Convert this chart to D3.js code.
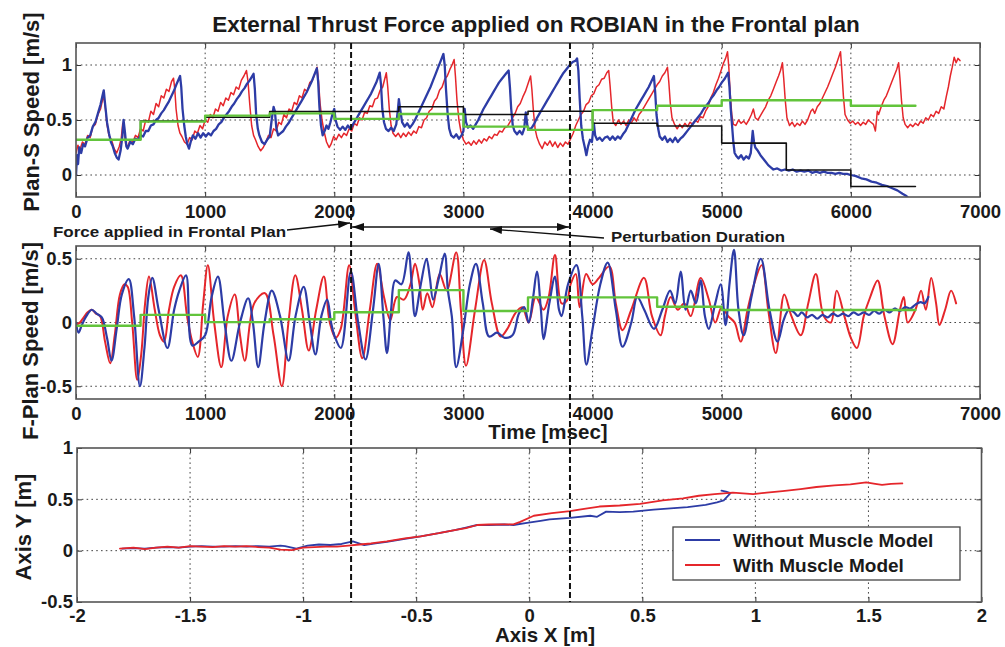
<!DOCTYPE html>
<html><head><meta charset="utf-8">
<script src="https://cdn.jsdelivr.net/npm/d3@7"></script>
<style>
body{margin:0;background:#fff}
svg{display:block}
text{font-family:"Liberation Sans",Arial,Helvetica,sans-serif;font-weight:bold;fill:#1a1a1a}
</style>
</head><body>
<svg id="chart" width="1005" height="647"></svg>
<script>
// ---------- DATA ----------
const titleText = "External Thrust Force applied on ROBIAN in the Frontal plan";
const timeTicks = [0,1000,2000,3000,4000,5000,6000,7000];
const topYTicks = [0,0.5,1];
const midYTicks = [-0.5,0,0.5];
const trajXTicks = [-2,-1.5,-1,-0.5,0,0.5,1,1.5,2];
const trajYTicks = [-0.5,0,0.5,1];
const seriesNames = ["Without Muscle Model","With Muscle Model"];
const perturbTimes = [2130,3825];

const stepStarts = [0,500,1000,1500,2000,2500,3000,3500,4000,4500,5000,5500,6000];
const stepEnd = 6500;
const topGreenSteps = [0.32,0.485,0.54,0.56,0.51,0.555,0.44,0.41,0.59,0.63,0.68,0.68,0.63];
const topBlackSteps = [0.32,0.49,0.525,0.577,0.577,0.62,0.55,0.58,0.47,0.445,0.29,0.045,-0.105];
const midGreenSteps = [-0.026,0.06,0.003,0.026,0.08,0.254,0.09,0.197,0.197,0.124,0.098,0.098,0.098];

// Plan-S speed, with muscle model (red)
const topRed = [[0,0.20],[15,0.27],[30,0.23],[50,0.30],[70,0.28],[90,0.36],[110,0.34],[130,0.44],[150,0.46],[170,0.55],[190,0.60],[205,0.68],[215,0.72],[228,0.60],[240,0.46],[255,0.36],[275,0.32],[295,0.24],[315,0.20],[335,0.26],[350,0.33],[362,0.47],[372,0.42],[385,0.28],[400,0.26],
[420,0.32],[440,0.30],[460,0.36],[480,0.34],[500,0.42],[520,0.40],[540,0.50],[560,0.48],[580,0.58],[600,0.55],[620,0.65],[640,0.62],[660,0.72],[680,0.70],[700,0.78],[720,0.76],[740,0.85],[755,0.88],[765,0.78],[775,0.60],[790,0.45],[805,0.38],[820,0.35],[840,0.30],[860,0.28],
[880,0.34],[900,0.32],[920,0.40],[940,0.38],[960,0.45],[980,0.42],[1000,0.50],[1020,0.48],[1040,0.55],[1060,0.52],[1080,0.60],[1100,0.58],[1120,0.66],[1140,0.63],[1160,0.70],[1180,0.68],[1200,0.75],[1220,0.73],[1240,0.80],[1260,0.78],[1280,0.86],[1300,0.90],[1320,0.95],[1332,0.85],[1345,0.65],[1360,0.45],[1375,0.36],[1390,0.32],[1410,0.26],[1430,0.22],[1450,0.25],
[1470,0.30],[1490,0.36],[1510,0.34],[1530,0.42],[1550,0.40],[1570,0.48],[1590,0.46],[1610,0.55],[1630,0.52],[1650,0.60],[1670,0.58],[1690,0.66],[1710,0.64],[1730,0.72],[1750,0.70],[1770,0.78],[1790,0.76],[1810,0.84],[1830,0.86],[1850,0.92],[1867,0.98],[1878,0.85],[1890,0.65],[1905,0.50],[1920,0.40],[1940,0.30],[1960,0.25],[1975,0.28],
[1995,0.35],[2015,0.32],[2035,0.37],[2055,0.34],[2075,0.38],[2095,0.36],[2115,0.42],[2135,0.40],[2155,0.47],[2175,0.45],[2195,0.52],[2215,0.50],[2235,0.57],[2255,0.56],[2275,0.63],[2295,0.62],[2315,0.69],[2335,0.70],[2355,0.77],[2375,0.80],[2390,0.87],[2403,0.93],[2414,0.80],[2426,0.60],[2440,0.45],[2455,0.38],[2475,0.35],
[2495,0.38],[2515,0.34],[2535,0.38],[2555,0.35],[2575,0.39],[2595,0.36],[2615,0.40],[2635,0.38],[2655,0.44],[2675,0.43],[2695,0.50],[2715,0.52],[2735,0.58],[2755,0.60],[2775,0.67],[2795,0.70],[2815,0.77],[2835,0.80],[2855,0.87],[2875,0.90],[2895,0.96],[2912,1.00],[2928,1.05],[2938,0.90],[2950,0.68],[2965,0.50],[2980,0.40],[3000,0.32],[3020,0.28],[3040,0.30],[3060,0.27],
[3080,0.31],[3100,0.28],[3120,0.32],[3140,0.29],[3160,0.33],[3180,0.31],[3200,0.35],[3220,0.33],[3240,0.37],[3260,0.36],[3280,0.40],[3300,0.39],[3320,0.43],[3340,0.44],[3360,0.48],[3380,0.52],[3400,0.56],[3420,0.62],[3440,0.65],[3460,0.71],[3480,0.76],[3500,0.83],[3520,0.90],[3530,0.78],[3542,0.58],[3555,0.42],[3570,0.34],
[3590,0.28],[3610,0.24],[3630,0.30],[3650,0.27],[3670,0.31],[3690,0.26],[3710,0.30],[3730,0.25],[3750,0.29],[3770,0.26],[3790,0.30],[3810,0.28],[3830,0.33],[3850,0.38],[3870,0.45],[3890,0.50],[3910,0.55],[3930,0.58],[3950,0.64],[3970,0.66],[3990,0.72],[4010,0.74],[4030,0.80],[4050,0.82],[4070,0.87],[4090,0.88],[4110,0.93],[4125,0.95],[4135,0.82],[4148,0.62],[4160,0.48],
[4180,0.45],[4200,0.50],[4220,0.46],[4240,0.49],[4260,0.45],[4280,0.50],[4300,0.47],[4320,0.52],[4340,0.49],[4360,0.55],[4380,0.58],[4400,0.62],[4420,0.66],[4440,0.70],[4460,0.74],[4480,0.78],[4500,0.82],[4520,0.85],[4540,0.90],[4560,0.93],[4580,0.98],[4590,0.85],[4602,0.65],[4615,0.52],
[4635,0.46],[4655,0.42],[4675,0.46],[4695,0.43],[4715,0.47],[4735,0.44],[4755,0.48],[4775,0.46],[4795,0.50],[4815,0.48],[4835,0.53],[4855,0.52],[4875,0.58],[4895,0.62],[4915,0.70],[4935,0.75],[4955,0.82],[4975,0.88],[4995,0.95],[5015,1.02],[5030,1.06],[5045,1.12],[5055,0.98],[5065,0.75],[5078,0.55],[5090,0.46],
[5110,0.45],[5130,0.50],[5150,0.47],[5170,0.49],[5190,0.46],[5210,0.50],[5230,0.55],[5245,0.60],[5260,0.52],[5280,0.50],[5300,0.54],[5320,0.58],[5340,0.62],[5360,0.68],[5380,0.72],[5400,0.78],[5420,0.84],[5440,0.90],[5455,0.95],[5470,1.02],[5480,0.88],[5492,0.68],[5505,0.52],
[5525,0.45],[5545,0.48],[5565,0.44],[5585,0.47],[5605,0.45],[5625,0.49],[5645,0.46],[5665,0.50],[5690,0.58],[5705,0.60],[5720,0.56],[5740,0.62],[5760,0.65],[5780,0.70],[5800,0.75],[5820,0.80],[5840,0.86],[5860,0.92],[5880,0.98],[5900,1.05],[5920,1.12],[5930,0.95],[5942,0.72],[5955,0.55],
[5975,0.50],[5995,0.47],[6015,0.49],[6035,0.46],[6055,0.48],[6075,0.45],[6095,0.48],[6115,0.46],[6135,0.50],[6155,0.48],[6175,0.46],[6190,0.40],[6205,0.58],[6215,0.55],[6235,0.62],[6255,0.68],[6275,0.72],[6295,0.78],[6315,0.84],[6335,0.90],[6355,0.96],[6370,1.02],[6380,0.88],[6392,0.68],[6405,0.52],
[6420,0.46],[6440,0.43],[6460,0.46],[6480,0.44],[6500,0.47],[6520,0.45],[6540,0.49],[6560,0.47],[6580,0.52],[6600,0.50],[6620,0.55],[6640,0.53],[6660,0.58],[6680,0.56],[6700,0.62],[6720,0.60],[6740,0.72],[6755,0.80],[6770,0.90],[6785,0.98],[6800,1.07],[6815,1.02],[6830,1.06],[6845,1.04]];

// Plan-S speed, without muscle model (blue)
const topBlue = [[0,0.0],[8,0.18],[16,0.10],[25,0.25],[40,0.20],[55,0.28],[70,0.26],[90,0.34],[110,0.36],[130,0.44],[150,0.48],[170,0.56],[190,0.64],[205,0.72],[215,0.77],[225,0.65],[240,0.48],[255,0.38],[270,0.30],[285,0.26],[300,0.20],[315,0.16],[330,0.14],[345,0.22],[360,0.36],[368,0.50],[378,0.40],[390,0.26],[400,0.24],
[420,0.30],[440,0.28],[460,0.33],[480,0.32],[500,0.36],[520,0.35],[540,0.40],[560,0.40],[580,0.45],[600,0.46],[620,0.50],[640,0.52],[660,0.56],[680,0.59],[700,0.63],[720,0.67],[740,0.72],[760,0.77],[780,0.83],[795,0.87],[806,0.90],[815,0.80],[825,0.60],[838,0.45],[850,0.35],[862,0.28],[875,0.24],[888,0.30],
[905,0.36],[925,0.33],[945,0.38],[965,0.34],[985,0.38],[1005,0.35],[1025,0.38],[1045,0.36],[1065,0.40],[1085,0.42],[1105,0.46],[1125,0.48],[1145,0.52],[1165,0.55],[1185,0.58],[1205,0.62],[1225,0.65],[1245,0.69],[1265,0.72],[1285,0.76],[1305,0.79],[1325,0.83],[1345,0.86],[1360,0.89],[1375,0.92],[1385,0.78],[1395,0.55],[1408,0.42],[1420,0.36],[1440,0.30],[1460,0.28],[1480,0.32],[1500,0.35],[1515,0.50],[1530,0.62],[1540,0.58],[1552,0.42],[1565,0.36],
[1585,0.38],[1605,0.40],[1625,0.44],[1645,0.47],[1665,0.51],[1685,0.55],[1705,0.59],[1725,0.63],[1745,0.67],[1765,0.71],[1785,0.75],[1805,0.80],[1825,0.85],[1845,0.91],[1865,0.97],[1875,0.85],[1885,0.62],[1897,0.45],[1910,0.36],[1925,0.40],[1940,0.45],[1955,0.42],[1970,0.48],[1985,0.55],[2000,0.60],[2010,0.50],[2025,0.44],[2045,0.41],[2065,0.44],[2085,0.41],[2105,0.45],[2125,0.42],
[2145,0.46],[2165,0.50],[2185,0.54],[2205,0.58],[2225,0.62],[2245,0.66],[2265,0.70],[2285,0.74],[2305,0.79],[2325,0.84],[2340,0.89],[2352,0.93],[2362,0.82],[2372,0.60],[2385,0.48],[2400,0.42],[2420,0.40],[2440,0.43],[2460,0.40],[2480,0.46],[2493,0.60],[2500,0.69],[2510,0.60],[2525,0.48],[2545,0.44],[2565,0.47],[2585,0.43],[2605,0.46],
[2625,0.50],[2645,0.55],[2665,0.60],[2685,0.65],[2705,0.70],[2725,0.75],[2745,0.80],[2765,0.86],[2785,0.92],[2805,0.98],[2825,1.04],[2845,1.10],[2855,1.00],[2865,0.78],[2878,0.55],[2890,0.42],[2905,0.36],[2925,0.34],[2945,0.37],[2965,0.33],[2985,0.36],[3000,0.40],[3010,0.60],[3020,0.48],[3035,0.43],[3055,0.45],[3075,0.42],[3095,0.46],
[3115,0.50],[3135,0.55],[3155,0.60],[3175,0.64],[3195,0.68],[3215,0.72],[3235,0.76],[3255,0.80],[3275,0.84],[3295,0.87],[3315,0.90],[3335,0.93],[3350,0.95],[3360,0.80],[3370,0.60],[3382,0.45],[3395,0.40],[3415,0.37],[3435,0.40],[3455,0.37],[3470,0.42],[3483,0.57],[3495,0.45],[3510,0.41],
[3530,0.43],[3550,0.47],[3570,0.52],[3590,0.56],[3610,0.60],[3630,0.64],[3650,0.68],[3670,0.72],[3690,0.76],[3710,0.80],[3730,0.84],[3750,0.88],[3770,0.92],[3790,0.95],[3810,0.98],[3830,1.01],[3850,1.03],[3870,1.04],[3880,1.06],[3890,0.95],[3900,0.70],[3912,0.45],[3925,0.33],[3940,0.25],[3952,0.18],[3965,0.26],[3980,0.32],[3995,0.30],[4010,0.47],[4020,0.36],[4035,0.32],[4055,0.34],[4075,0.31],[4095,0.34],
[4115,0.35],[4135,0.32],[4155,0.35],[4175,0.32],[4195,0.35],[4215,0.33],[4235,0.37],[4255,0.40],[4275,0.45],[4295,0.50],[4315,0.55],[4335,0.60],[4355,0.64],[4375,0.68],[4395,0.72],[4415,0.76],[4435,0.80],[4455,0.85],[4475,0.90],[4485,0.75],[4495,0.55],[4508,0.42],[4520,0.35],[4540,0.32],[4560,0.35],[4580,0.30],[4600,0.33],[4620,0.30],[4640,0.34],[4660,0.30],[4680,0.33],
[4700,0.35],[4720,0.38],[4740,0.41],[4760,0.44],[4780,0.47],[4800,0.50],[4820,0.53],[4840,0.56],[4860,0.60],[4880,0.63],[4900,0.66],[4920,0.70],[4940,0.73],[4960,0.77],[4980,0.80],[5000,0.84],[5020,0.87],[5035,0.90],[5050,0.93],[5060,0.80],[5070,0.60],[5080,0.45],[5090,0.30],[5100,0.20],[5115,0.17],[5130,0.15],[5150,0.18],[5170,0.14],[5190,0.17],[5210,0.15],[5225,0.20],[5240,0.40],[5250,0.30],[5260,0.25],
[5280,0.22],[5300,0.18],[5320,0.15],[5340,0.12],[5360,0.09],[5380,0.07],[5400,0.05],[5430,0.06],[5460,0.04],[5490,0.05],[5520,0.04],[5550,0.05],[5580,0.03],[5610,0.04],[5640,0.03],[5670,0.04],[5700,0.02],[5730,0.03],[5760,0.02],[5790,0.03],[5820,0.02],[5850,0.02],[5880,0.01],[5910,0.02],[5940,0.01],[5970,0.01],[6000,0.00],[6040,-0.01],[6080,-0.03],[6120,-0.04],[6160,-0.06],[6200,-0.07],[6240,-0.09],[6280,-0.10],[6320,-0.12],[6360,-0.14],[6400,-0.17],[6430,-0.19],[6445,-0.21]];

// F-Plan speed, with muscle model (red)
const midRed = [[0,-0.02],[30,0.00],[60,0.04],[90,0.08],[122,0.10],[155,0.07],[187,0.05],[225,-0.15],[265,-0.32],[300,-0.10],[340,0.22],[375,0.30],[400,0.28],[435,0.00],[474,-0.45],[505,-0.25],[535,0.15],[565,0.36],[610,0.10],[650,-0.10],[682,-0.15],[720,0.10],[760,0.28],[812,0.37],[860,0.05],[900,-0.15],[943,-0.27],[985,0.15],[1021,0.45],[1070,0.00],[1125,-0.35],[1175,0.05],[1229,0.22],[1270,-0.10],[1307,-0.30],[1380,0.15],[1463,0.23],[1530,-0.10],[1594,-0.50],[1645,0.00],[1698,0.37],[1750,0.10],[1802,-0.22],[1860,0.10],[1919,0.36],[1965,0.00],
[2010,-0.12],[2050,-0.05],[2115,0.45],[2160,0.10],[2217,-0.28],[2275,0.10],[2332,0.46],[2385,0.20],[2434,0.02],[2485,0.20],[2540,0.18],[2590,0.30],[2625,0.46],[2660,0.30],[2685,0.10],[2720,0.23],[2760,0.12],[2816,0.38],[2870,0.25],[2944,0.55],[2980,0.10],[3020,-0.34],[3090,0.10],[3160,0.49],[3220,0.15],[3288,-0.11],[3340,-0.05],[3400,0.07],[3455,0.12],[3505,0.00],[3560,0.20],[3620,0.10],[3660,0.20],[3709,0.53],[3760,0.15],[3800,0.17],[3830,0.30],[3870,0.38],[3900,0.12],[3950,0.38],[4000,0.30],[4050,0.35],[4130,0.44],[4180,0.15],[4232,-0.06],
[4300,0.10],[4398,0.35],[4460,0.05],[4527,-0.10],[4560,0.05],[4605,0.20],[4660,0.10],[4710,0.15],[4760,0.05],[4837,0.35],[4900,0.18],[4950,0.00],[5000,0.12],[5050,0.05],[5100,0.00],[5147,-0.15],[5200,0.10],[5250,0.30],[5310,0.45],[5360,0.10],[5419,-0.24],[5484,0.22],[5540,0.05],[5612,-0.10],[5670,0.15],[5729,0.38],[5790,0.05],[5845,0.00],[5890,0.25],[5950,0.05],[6000,-0.12],[6047,-0.20],[6100,0.05],[6150,0.20],[6207,0.33],[6260,0.05],[6323,-0.17],[6380,0.10],[6410,0.20],[6440,0.00],[6500,0.10],[6544,0.25],[6580,0.10],[6622,0.35],[6660,0.15],[6686,-0.02],[6730,0.10],[6776,0.25],[6815,0.15]];

// F-Plan speed, without muscle model (blue)
const midBlue = [[0,0.00],[20,-0.08],[45,-0.02],[80,0.05],[122,0.10],[160,0.07],[200,0.04],[240,-0.12],[275,-0.30],[315,-0.05],[355,0.22],[409,0.34],[450,0.05],[495,-0.50],[530,-0.20],[560,0.20],[591,0.35],[640,0.10],[708,-0.20],[760,0.10],[800,0.25],[852,0.37],[900,-0.18],[950,-0.15],[1000,-0.10],[1050,0.20],[1099,0.36],[1150,0.00],[1203,-0.30],[1270,0.00],[1333,0.19],[1370,0.00],[1411,-0.35],[1460,0.00],[1516,0.25],[1580,0.05],[1646,-0.30],[1700,0.05],[1763,0.28],[1810,0.00],[1854,-0.25],[1900,0.05],[1945,0.18],[1975,0.00],
[2000,-0.10],[2051,-0.20],[2128,0.40],[2185,0.00],[2242,-0.29],[2300,0.10],[2344,0.46],[2380,0.05],[2408,-0.24],[2440,0.10],[2472,0.33],[2520,0.30],[2574,0.55],[2600,0.30],[2625,0.05],[2670,0.30],[2714,0.50],[2740,0.35],[2765,0.18],[2810,0.35],[2855,0.54],[2880,0.25],[2910,0.05],[2944,-0.35],[3000,-0.05],[3050,0.30],[3097,0.46],[3150,0.15],[3199,-0.11],[3260,-0.08],[3320,-0.12],[3380,-0.10],[3430,0.07],[3470,0.12],[3505,0.00],[3540,0.20],[3569,0.40],[3600,0.10],[3620,-0.13],[3665,0.15],[3709,0.36],[3740,0.10],[3760,0.05],[3810,0.30],[3875,0.45],[3920,0.05],[3952,-0.33],[4000,-0.05],[4060,0.30],[4117,0.47],[4180,0.10],[4232,-0.19],
[4300,0.00],[4346,0.20],[4400,0.10],[4476,-0.05],[4540,0.10],[4600,0.25],[4640,0.15],[4682,0.40],[4720,0.10],[4760,0.25],[4800,0.15],[4837,0.33],[4870,0.05],[4900,-0.05],[4950,0.15],[4992,0.30],[5030,-0.02],[5060,0.30],[5095,0.57],[5130,0.10],[5170,-0.10],[5230,0.20],[5303,0.50],[5370,0.10],[5432,-0.15],[5480,0.02],[5520,0.10],[5560,0.08],[5590,0.05],[5620,0.08],[5660,0.04],[5700,0.06],[5740,0.03],[5780,0.06],[5820,0.04],[5860,0.07],[5900,0.05],[5940,0.07],[5980,0.05],[6020,0.08],[6060,0.06],[6100,0.08],[6140,0.06],[6180,0.09],[6220,0.07],[6260,0.10],[6300,0.08],[6340,0.11],[6380,0.09],[6420,0.12],[6460,0.11],[6500,0.14],[6540,0.16],[6570,0.15],[6600,0.20]];

// Trajectory (x, y) in metres
const trajBlue = [[-1.80,0.02],[-1.75,0.025],[-1.70,0.02],[-1.65,0.03],[-1.60,0.035],[-1.55,0.03],[-1.50,0.04],[-1.45,0.045],[-1.40,0.04],[-1.35,0.04],[-1.30,0.045],[-1.25,0.04],[-1.20,0.045],[-1.15,0.04],[-1.10,0.05],[-1.08,0.045],[-1.03,0.02],[-0.98,0.05],[-0.93,0.06],[-0.88,0.055],[-0.83,0.065],[-0.78,0.09],[-0.73,0.055],[-0.68,0.07],[-0.63,0.085],[-0.55,0.115],[-0.48,0.14],[-0.40,0.17],[-0.33,0.20],[-0.28,0.225],[-0.23,0.25],[-0.18,0.25],[-0.11,0.255],[-0.07,0.25],[-0.01,0.27],[0.05,0.29],[0.09,0.305],[0.18,0.32],[0.27,0.34],[0.30,0.33],[0.34,0.38],[0.40,0.375],[0.46,0.38],[0.55,0.40],[0.61,0.41],[0.70,0.425],[0.78,0.445],[0.83,0.47],[0.86,0.49],[0.89,0.56],[0.87,0.575],[0.85,0.585]];
const trajRed = [[-1.81,0.02],[-1.75,0.03],[-1.70,0.015],[-1.65,0.03],[-1.60,0.04],[-1.55,0.03],[-1.50,0.045],[-1.45,0.04],[-1.40,0.035],[-1.35,0.045],[-1.30,0.04],[-1.25,0.045],[-1.20,0.035],[-1.15,0.03],[-1.10,0.01],[-1.05,0.005],[-1.00,0.03],[-0.95,0.035],[-0.90,0.04],[-0.85,0.04],[-0.80,0.05],[-0.75,0.06],[-0.70,0.07],[-0.63,0.09],[-0.55,0.12],[-0.48,0.14],[-0.40,0.17],[-0.33,0.20],[-0.28,0.22],[-0.23,0.25],[-0.18,0.255],[-0.11,0.256],[-0.07,0.256],[-0.04,0.28],[0.02,0.34],[0.10,0.365],[0.18,0.386],[0.25,0.41],[0.31,0.43],[0.40,0.44],[0.49,0.455],[0.59,0.49],[0.68,0.51],[0.75,0.535],[0.82,0.55],[0.90,0.565],[0.99,0.55],[1.05,0.565],[1.12,0.58],[1.20,0.60],[1.27,0.62],[1.35,0.635],[1.42,0.645],[1.49,0.665],[1.53,0.65],[1.56,0.64],[1.60,0.65],[1.65,0.655]];

// ---------- STYLE ----------
const RED = "#e5262b", BLUE = "#2d3ca6", GREEN = "#62c43b", BLACK = "#111";
const svg = d3.select("#chart");

const xTime = d3.scaleLinear().domain([0,7000]).range([76,980]);
const yTop = d3.scaleLinear().domain([-0.2,1.2]).range([197,43]);
const yMid = d3.scaleLinear().domain([-0.6,0.6]).range([399,246]);
const xTraj = d3.scaleLinear().domain([-2,2]).range([77,981.5]);
const yTraj = d3.scaleLinear().domain([-0.5,1]).range([602,448]);

let clipId = 0;
function panel(x, y, xt, yt, labelPad) {
  const g = svg.append("g");
  const [x0,x1] = x.range(), [y1,y0] = y.range();
  g.append("g").selectAll("line").data(xt.slice(1,-1)).join("line")
    .attr("x1", d=>x(d)).attr("x2", d=>x(d)).attr("y1", y0).attr("y2", y1)
    .attr("stroke","#444").attr("stroke-width",1).attr("stroke-dasharray","1.6,3.2");
  g.append("g").selectAll("line").data(yt.filter(v=>y(v)>y0+1 && y(v)<y1-1)).join("line")
    .attr("x1", x0).attr("x2", x1).attr("y1", d=>y(d)).attr("y2", d=>y(d))
    .attr("stroke","#444").attr("stroke-width",1).attr("stroke-dasharray","1.6,3.2");
  const fmt = d=>String(d);
  const ab = g.append("g").attr("transform",`translate(0,${y1})`)
    .call(d3.axisBottom(x).tickValues(xt).tickFormat(fmt).tickSizeInner(-5).tickSizeOuter(0).tickPadding(labelPad));
  const al = g.append("g").attr("transform",`translate(${x0},0)`)
    .call(d3.axisLeft(y).tickValues(yt).tickFormat(fmt).tickSizeInner(-5).tickSizeOuter(0).tickPadding(4));
  const at = g.append("g").attr("transform",`translate(0,${y0})`)
    .call(d3.axisTop(x).tickValues(xt).tickFormat("").tickSizeInner(-5).tickSizeOuter(0));
  const ar = g.append("g").attr("transform",`translate(${x1},0)`)
    .call(d3.axisRight(y).tickValues(yt).tickFormat("").tickSizeInner(-5).tickSizeOuter(0));
  [ab,al,at,ar].forEach(a=>{
    a.select(".domain").remove();
    a.selectAll(".tick line").attr("stroke","#333");
    a.selectAll("text").attr("font-size","18.5px").attr("fill","#1a1a1a")
      .attr("font-family",'"Liberation Sans",Arial,sans-serif').attr("font-weight","bold");
  });
  const id = "clip"+(clipId++);
  svg.append("clipPath").attr("id",id).append("rect")
    .attr("x",x0).attr("y",y0).attr("width",x1-x0).attr("height",y1-y0);
  const plot = svg.append("g").attr("clip-path",`url(#${id})`);
  const frame = () => svg.append("rect").attr("x",x0).attr("y",y0).attr("width",x1-x0).attr("height",y1-y0)
    .attr("fill","none").attr("stroke","#555").attr("stroke-width",1.6);
  return {plot, frame};
}

function drawLine(g, data, x, y, color, w, curve) {
  g.append("path").datum(data)
    .attr("d", d3.line().x(d=>x(d[0])).y(d=>y(d[1])).curve(curve||d3.curveLinear))
    .attr("fill","none").attr("stroke",color).attr("stroke-width",w)
    .attr("stroke-linejoin","round").attr("stroke-linecap","round");
}
function stepData(vals){
  const pts = stepStarts.map((t,i)=>[t, vals[i]]);
  pts.push([stepEnd, vals[vals.length-1]]);
  return pts;
}

// ---------- TOP PANEL ----------
const P1 = panel(xTime, yTop, timeTicks, topYTicks, 8);
drawLine(P1.plot, topRed, xTime, yTop, RED, 1.5);
drawLine(P1.plot, topBlue, xTime, yTop, BLUE, 2.3);
drawLine(P1.plot, stepData(topBlackSteps), xTime, yTop, BLACK, 1.6, d3.curveStepAfter);
drawLine(P1.plot, stepData(topGreenSteps), xTime, yTop, GREEN, 2.4, d3.curveStepAfter);
P1.frame();

// ---------- MIDDLE PANEL ----------
const P2 = panel(xTime, yMid, timeTicks, midYTicks, 8);
drawLine(P2.plot, midRed, xTime, yMid, RED, 2, d3.curveCatmullRom.alpha(0.5));
drawLine(P2.plot, midBlue, xTime, yMid, BLUE, 2.2, d3.curveCatmullRom.alpha(0.5));
drawLine(P2.plot, stepData(midGreenSteps), xTime, yMid, GREEN, 2.4, d3.curveStepAfter);
P2.frame();

// ---------- BOTTOM PANEL ----------
const P3 = panel(xTraj, yTraj, trajXTicks, trajYTicks, 7);
drawLine(P3.plot, trajBlue, xTraj, yTraj, BLUE, 1.8);
drawLine(P3.plot, trajRed, xTraj, yTraj, RED, 1.8);
P3.frame();

// legend
const lg = svg.append("g");
lg.append("rect").attr("x",673).attr("y",527).attr("width",287).attr("height",53)
  .attr("fill","#fff").attr("stroke","#444").attr("stroke-width",1.3);
const legendColors = [BLUE, RED];
seriesNames.forEach((n,i)=>{
  const yy = 540 + i*25;
  lg.append("line").attr("x1",685).attr("x2",720).attr("y1",yy).attr("y2",yy)
    .attr("stroke",legendColors[i]).attr("stroke-width",2);
  lg.append("text").attr("x",733).attr("y",yy+7).attr("font-size","19px").text(n);
});

// ---------- PERTURBATION LINES ----------
perturbTimes.forEach(t=>{
  svg.append("line").attr("x1",xTime(t)).attr("x2",xTime(t)).attr("y1",43).attr("y2",602)
    .attr("stroke","#111").attr("stroke-width",2).attr("stroke-dasharray","6,3");
});

// ---------- TEXTS ----------
svg.append("text").attr("x",536).attr("y",32).attr("text-anchor","middle").attr("font-size","22.5px").text(titleText);
svg.append("text").attr("transform","translate(39,112) rotate(-90)").attr("text-anchor","middle").attr("font-size","22px").text("Plan-S Speed [m/s]");
svg.append("text").attr("transform","translate(38,341) rotate(-90)").attr("text-anchor","middle").attr("font-size","22px").text("F-Plan Speed [m/s]");
svg.append("text").attr("transform","translate(31,527) rotate(-90)").attr("text-anchor","middle").attr("font-size","22px").text("Axis Y [m]");
svg.append("text").attr("x",548).attr("y",439).attr("text-anchor","middle").attr("font-size","20.5px").text("Time [msec]");
svg.append("text").attr("x",545).attr("y",642).attr("text-anchor","middle").attr("font-size","20.5px").text("Axis X [m]");

// annotations
svg.append("text").attr("x",53).attr("y",237).attr("font-size","14.5px")
  .attr("textLength",233).attr("lengthAdjust","spacingAndGlyphs").text("Force applied in Frontal Plan");
svg.append("text").attr("x",611).attr("y",242).attr("font-size","14.5px")
  .attr("textLength",174).attr("lengthAdjust","spacingAndGlyphs").text("Perturbation Duration");

const defs = svg.append("defs");
defs.append("marker").attr("id","ah").attr("viewBox","0 0 12 8").attr("refX",12).attr("refY",4)
  .attr("markerWidth",12).attr("markerHeight",8).attr("markerUnits","userSpaceOnUse").attr("orient","auto-start-reverse")
  .append("path").attr("d","M0,0 L12,4 L0,8 Z").attr("fill","#111");
const xa = xTime(perturbTimes[0]), xb = xTime(perturbTimes[1]);
svg.append("line").attr("x1",287).attr("y1",230).attr("x2",xa-1).attr("y2",223)
  .attr("stroke","#111").attr("stroke-width",1.4).attr("marker-end","url(#ah)");
svg.append("line").attr("x1",xa+1).attr("y1",227).attr("x2",xb-1).attr("y2",227)
  .attr("stroke","#111").attr("stroke-width",1.4).attr("marker-start","url(#ah)").attr("marker-end","url(#ah)");
svg.append("line").attr("x1",604).attr("y1",238).attr("x2",490).attr("y2",229)
  .attr("stroke","#111").attr("stroke-width",1.4).attr("marker-end","url(#ah)");
</script>
</body></html>
